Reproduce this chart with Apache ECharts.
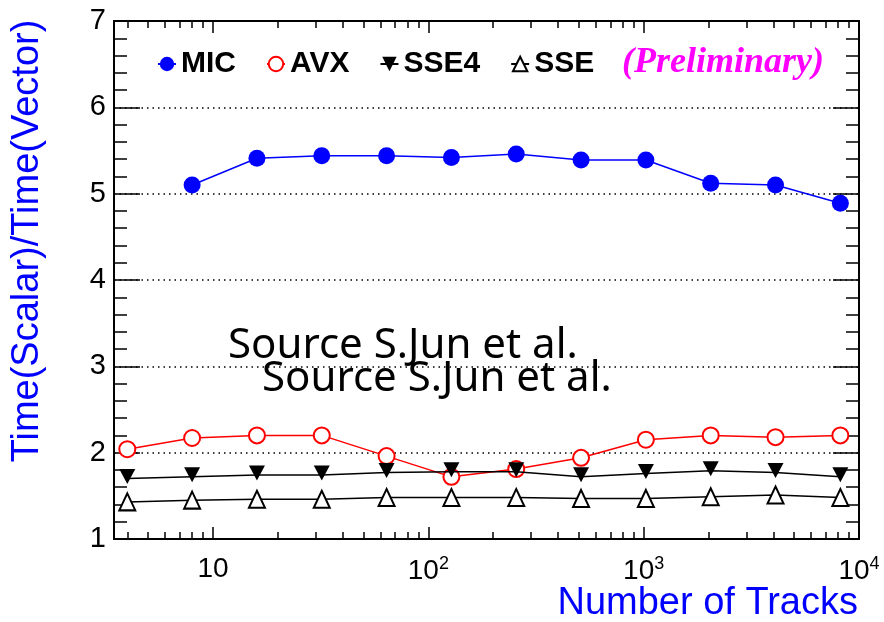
<!DOCTYPE html>
<html>
<head>
<meta charset="utf-8">
<script src="https://cdn.jsdelivr.net/npm/echarts@6/dist/echarts.min.js"></script>
<style>html,body{margin:0;padding:0;background:#fff}#c{width:884px;height:622px}</style>
</head>
<body>
<div id="c"></div>
<script>
// ---- data ----
const tracks = [4, 8, 16, 32, 64, 128, 256, 512, 1024, 2048, 4096, 8192];
const mic  = [null, 5.10, 5.41, 5.44, 5.44, 5.42, 5.46, 5.39, 5.39, 5.12, 5.10, 4.89];
const avx  = [2.04, 2.17, 2.20, 2.20, 1.96, 1.72, 1.81, 1.94, 2.15, 2.20, 2.18, 2.20];
const sse4 = [1.70, 1.72, 1.74, 1.74, 1.77, 1.78, 1.78, 1.72, 1.76, 1.79, 1.77, 1.72];
const sse  = [1.43, 1.45, 1.46, 1.46, 1.48, 1.48, 1.48, 1.47, 1.47, 1.49, 1.51, 1.48];
const seriesNames = ['MIC', 'AVX', 'SSE4', 'SSE'];
const xMajorDecades = [1, 2, 3, 4];          // log10 of 10, 10^2, 10^3, 10^4
const xTickLabels = ['10', '10{sup|2}', '10{sup|3}', '10{sup|4}'];
const xMin = 3.47, xMax = 10000;
const yMin = 1, yMax = 7, yInterval = 1;
const yTitle = 'Time(Scalar)/Time(Vector)';
const xTitle = 'Number of Tracks';
const prelimText = '(Preliminary)';
const sourceText = 'Source S.Jun et al.';

// ---- build ----
const lg = v => Math.log10(v);
const toPairs = arr => tracks.map((t, i) => arr[i] == null ? null : [lg(t), arr[i]]).filter(p => p);
const minorLogs = [];
for (let d = 0; d < 4; d++) for (let k = 2; k <= 9; k++) {
  const v = lg(k * Math.pow(10, d));
  if (v >= lg(xMin) && v <= lg(xMax)) minorLogs.push(v);
}
const allTicks = minorLogs.concat(xMajorDecades);
const labelMap = {};
xMajorDecades.forEach((d, i) => labelMap[d] = xTickLabels[i]);

const FRAME = {show: true, onZero: false, lineStyle: {color: '#000', width: 2}};
const xBase = {type: 'value', min: lg(xMin), max: lg(xMax), splitLine: {show: false}, axisLine: FRAME};
const yBase = {type: 'value', min: yMin, max: yMax, interval: yInterval, axisLine: FRAME};

const chart = echarts.init(document.getElementById('c'));
chart.setOption({
  animation: false,
  backgroundColor: '#fff',
  grid: {left: 114, right: 25, top: 21, bottom: 83},
  xAxis: [
    Object.assign({}, xBase, {position: 'bottom',
      axisTick: {show: true, inside: true, length: 12, customValues: xMajorDecades, lineStyle: {color: '#000', width: 1.5}},
      axisLabel: {show: true, customValues: xMajorDecades, margin: 16, color: '#000',
        fontFamily: 'Liberation Sans', fontSize: 28,
        formatter: v => labelMap[Math.round(v)] || '',
        rich: {sup: {fontSize: 18, fontFamily: 'Liberation Sans', color: '#000', verticalAlign: 'top', padding: [0, 0, 14, 0]}}}}),
    Object.assign({}, xBase, {position: 'bottom',
      axisTick: {show: true, inside: true, length: 7, customValues: allTicks, lineStyle: {color: '#000', width: 1.5}},
      axisLabel: {show: false}}),
    Object.assign({}, xBase, {position: 'top',
      axisTick: {show: true, inside: true, length: 12, customValues: xMajorDecades, lineStyle: {color: '#000', width: 1.5}},
      axisLabel: {show: false}}),
    Object.assign({}, xBase, {position: 'top',
      axisTick: {show: true, inside: true, length: 7, customValues: allTicks, lineStyle: {color: '#000', width: 1.5}},
      axisLabel: {show: false}})
  ],
  yAxis: [
    Object.assign({}, yBase, {position: 'left',
      axisTick: {show: true, inside: true, length: 26, lineStyle: {color: '#000', width: 1.5}},
      minorTick: {show: true, splitNumber: 5, length: 13, lineStyle: {color: '#000', width: 1.5}},
      splitLine: {show: true, lineStyle: {color: '#000', type: [1.5, 4], width: 1.5}},
      axisLabel: {show: true, margin: 8, color: '#000', fontFamily: 'Liberation Sans', fontSize: 29}}),
    Object.assign({}, yBase, {position: 'right',
      axisTick: {show: true, inside: true, length: 26, lineStyle: {color: '#000', width: 1.5}},
      minorTick: {show: true, splitNumber: 5, length: 13, lineStyle: {color: '#000', width: 1.5}},
      splitLine: {show: false},
      axisLabel: {show: false}})
  ],
  legend: {
    data: seriesNames, left: 152, top: 44, itemGap: 30, itemWidth: 18, itemHeight: 18,
    textStyle: {fontFamily: 'Liberation Sans', fontWeight: 'bold', fontSize: 30, color: '#000'}
  },
  series: [
    {name: seriesNames[0], type: 'line', data: toPairs(mic), symbol: 'circle', symbolSize: 17,
      itemStyle: {color: '#0000ff'}, lineStyle: {color: '#0000ff', width: 1.5}, z: 5},
    {name: seriesNames[1], type: 'line', data: toPairs(avx), symbol: 'emptyCircle', symbolSize: 16,
      itemStyle: {color: '#ff0000', borderColor: '#ff0000', borderWidth: 1.5}, lineStyle: {color: '#ff0000', width: 1.5}, z: 2},
    {name: seriesNames[2], type: 'line', data: toPairs(sse4), symbol: 'path://M0,0L10,0L5,9Z', symbolSize: [16, 15], symbolOffset: [0, -2],
      itemStyle: {color: '#000'}, lineStyle: {color: '#000', width: 1.5}, z: 3},
    {name: seriesNames[3], type: 'line', data: toPairs(sse), symbol: 'emptyTriangle', symbolSize: [16, 17],
      itemStyle: {color: '#000', borderColor: '#000', borderWidth: 1.5}, lineStyle: {color: '#000', width: 1.5}, z: 3}
  ],
  graphic: [
    {type: 'text', x: 622, y: 63, style: {text: prelimText, fill: '#ff00ff', font: 'italic bold 36px "Liberation Serif"', verticalAlign: 'middle', align: 'left'}},
    {type: 'text', x: 228, y: 346, z: 10, style: {text: sourceText, fill: '#000', font: '42px "Noto Sans"', verticalAlign: 'middle', align: 'left'}},
    {type: 'text', x: 262, y: 379, z: 10, style: {text: sourceText, fill: '#000', font: '42px "Noto Sans"', verticalAlign: 'middle', align: 'left'}},
    {type: 'text', x: 858, y: 604, style: {text: xTitle, fill: '#0000ff', font: '38px "Liberation Sans"', verticalAlign: 'middle', align: 'right'}},
    {type: 'text', x: 28, y: 241, rotation: Math.PI / 2, style: {text: yTitle, fill: '#0000ff', font: '38px "Liberation Sans"', verticalAlign: 'middle', align: 'center'}}
  ]
});
</script>
</body>
</html>
